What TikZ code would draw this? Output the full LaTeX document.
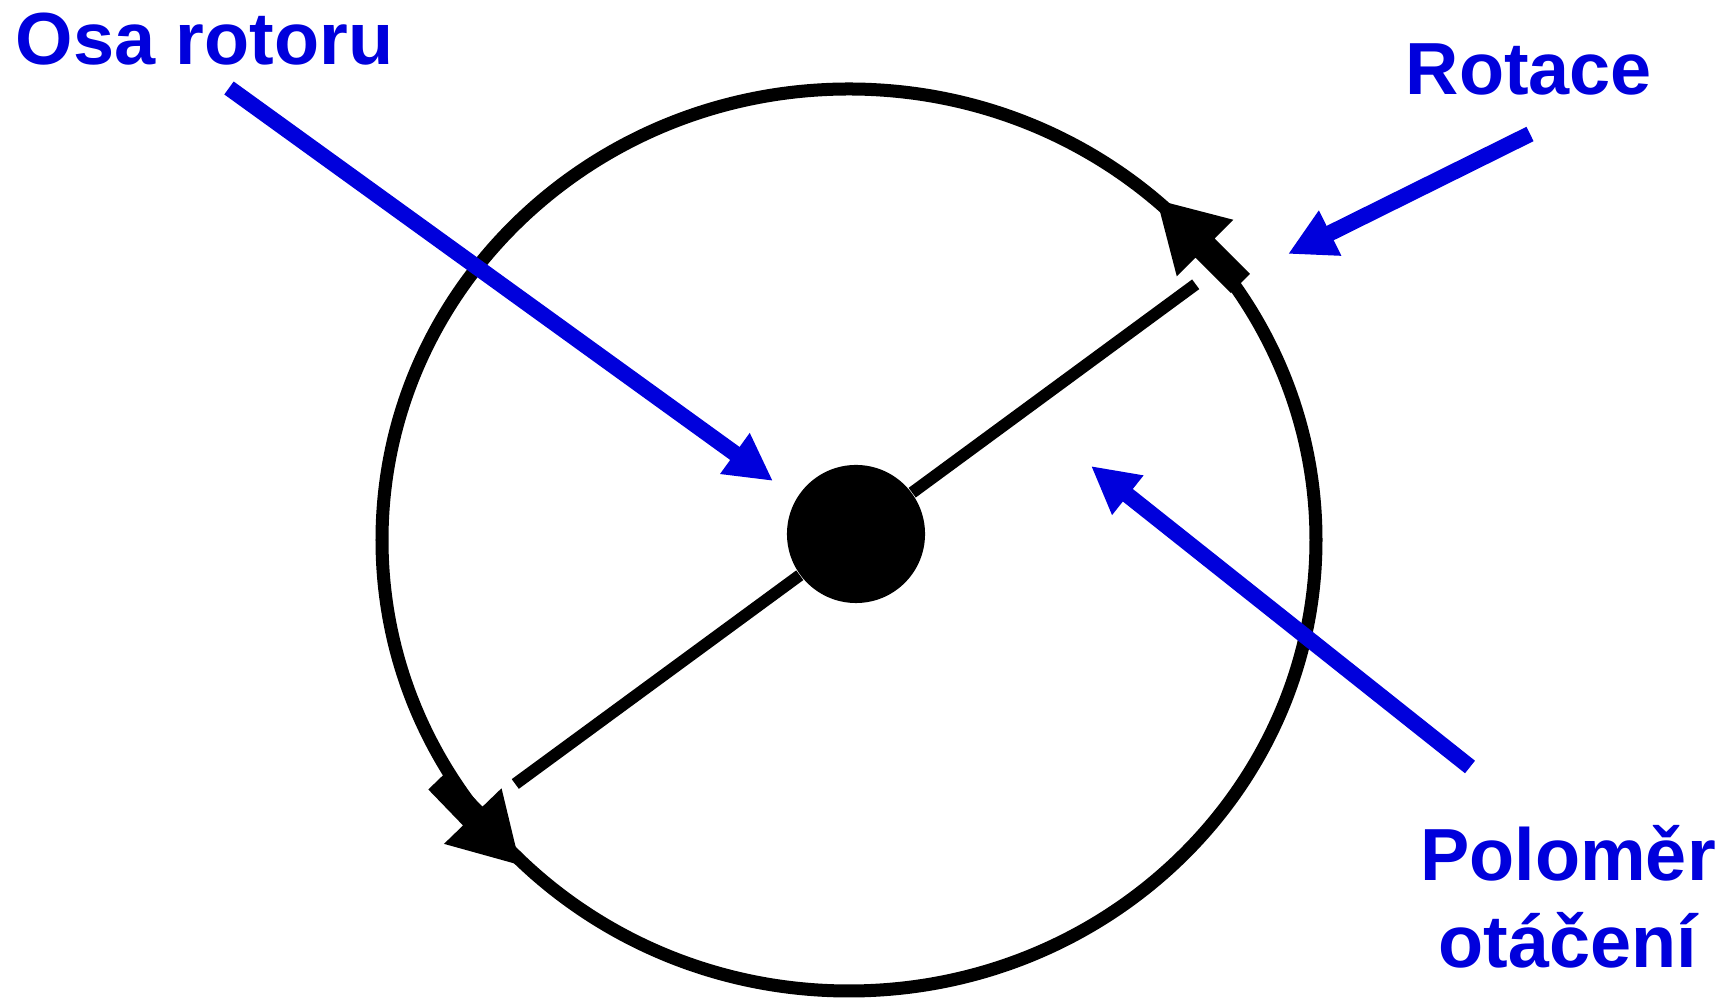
\documentclass[tikz,border=0pt]{standalone}
\usepackage{fontspec}
\setmainfont{Liberation Sans}
\usetikzlibrary{arrows.meta}
\definecolor{labelblue}{RGB}{0,0,220}
\tikzset{
  >={Triangle[length=4.7mm, width=4.7mm]},
  ring/.style={draw, line width=1.3mm},
  spoke/.style={draw, line width=1.2mm},
  hub/.style={circle, fill, inner sep=0pt, minimum size=13.8mm},
  callout/.style={draw=labelblue, line width=1.6mm, ->},
  lbl/.style={
    text=labelblue, inner sep=0pt, align=center,
    font=\fontsize{21}{24.75}\selectfont\bfseries
  },
  pics/spinarrow/.style={code={
    \fill (0,0) -- (-68,40) -- (-68,13.5) -- (-118,13.5) -- (-118,-13.5)
      -- (-68,-13.5) -- (-68,-40) -- cycle;
  }},
}

\begin{document}
\begin{tikzpicture}[x=0.01cm, y=0.01cm]
  \useasboundingbox (0,0) rectangle (1726,1000);
  % rotor ring and its two direction arrows
  \draw[ring] (849,460) ellipse [x radius=467, y radius=451];
  \pic[rotate=135] at (1157,800) {spinarrow};
  \pic[rotate=-46] at (520,135) {spinarrow};
  % hub and radius line
  \node[hub] (hub) at (856,466) {};
  \coordinate (rimA) at (515.3,216);
  \coordinate (rimB) at (1195.7,715.7);
  \draw[spoke] (hub) -- (rimA);
  \draw[spoke] (hub) -- (rimB);
  % labels
  \node[lbl, anchor=base west] (osa) at (15,935) {Osa rotoru};
  \node[lbl, anchor=base west] (rotace) at (1405,905) {Rotace};
  \node[lbl, anchor=base] (polomer) at (1568,32) {Poloměr\\otáčení};
  % callout arrows
  \coordinate (osaTail) at (229,912);
  \coordinate (osaTip) at (773,519);
  \coordinate (rotTail) at (1530,866);
  \coordinate (rotTip) at (1288,746);
  \coordinate (polTail) at (1470,233);
  \coordinate (polTip) at (1091,534);
  \draw[callout] (osaTail) -- (osaTip);
  \draw[callout] (rotTail) -- (rotTip);
  \draw[callout] (polTail) -- (polTip);
\end{tikzpicture}
\end{document}
